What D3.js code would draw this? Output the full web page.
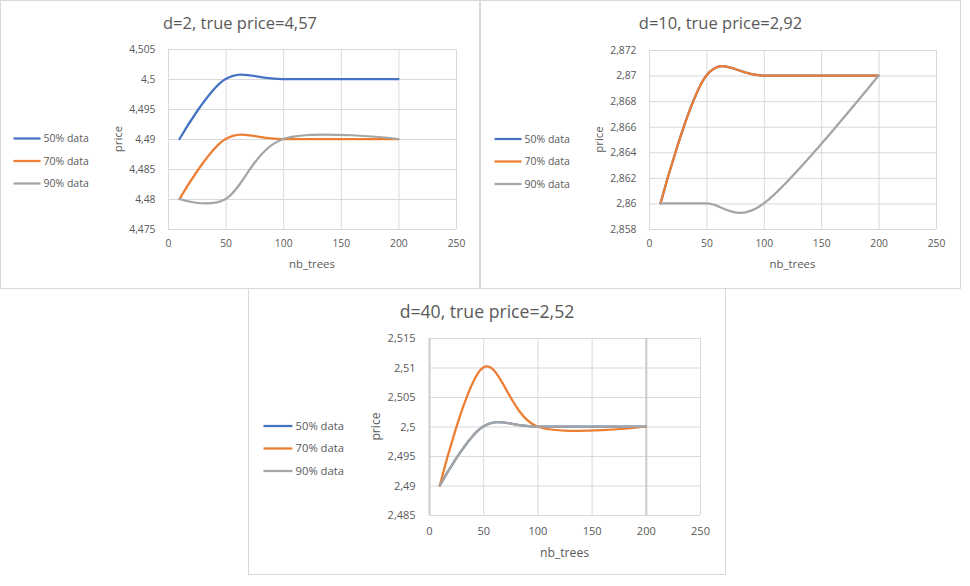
<!DOCTYPE html>
<html>
<head>
<meta charset="utf-8">
<script src="https://cdn.jsdelivr.net/npm/d3@7"></script>
<style>
  body { margin: 0; background: #fff; }
  text { font-family: 'Open Sans', sans-serif; fill: #595959; }
</style>
</head>
<body>
<svg id="chart" width="970" height="586"></svg>
<script>
/* ----------------------------- data ----------------------------- */
const nbTrees = [10, 50, 100, 200];
const seriesNames = ['50% data', '70% data', '90% data'];
const seriesColors = ['#4472c4', '#ed7d31', '#a5a5a5'];
const xTicks = [0, 50, 100, 150, 200, 250];

const chartTitles = ['d=2, true price=4,57', 'd=10, true price=2,92', 'd=40, true price=2,52'];

const d2Ticks = [4.475, 4.48, 4.485, 4.49, 4.495, 4.5, 4.505];
const d2Price50 = [4.49, 4.5, 4.5, 4.5];
const d2Price70 = [4.48, 4.49, 4.49, 4.49];
const d2Price90 = [4.48, 4.48, 4.49, 4.49];

const d10Ticks = [2.858, 2.86, 2.862, 2.864, 2.866, 2.868, 2.87, 2.872];
const d10Price50 = [2.86, 2.87, 2.87, 2.87];
const d10Price70 = [2.86, 2.87, 2.87, 2.87];
const d10Price90 = [2.86, 2.86, 2.86, 2.87];

const d40Ticks = [2.485, 2.49, 2.495, 2.5, 2.505, 2.51, 2.515];
const d40Price50 = [2.49, 2.5, 2.5, 2.5];
const d40Price70 = [2.49, 2.51, 2.5, 2.5];
const d40Price90 = [2.49, 2.5, 2.5, 2.5];

/* ---------------------------- layout ---------------------------- */
// box: [x0, y0, x1, y1], plot: [left, top, right, bottom], s: font scale
const layouts = [
  { box: [0.5, 0.5, 479.5, 288.5], plot: [168, 49, 456, 229], s: 1, legendX: 13, heavyX: [] },
  { box: [480.5, 0.5, 960.5, 288.5], plot: [649, 50, 936, 229], s: 1, legendX: 14, heavyX: [] },
  { box: [248.5, 288.5, 725.5, 574.5], plot: [429, 338, 700, 515], s: 1.07, legendX: 14, heavyX: [0, 200] },
];

const fmt = d3.formatLocale({ decimal: ',', thousands: ' ', grouping: [3], currency: ['', ''] }).format('.3~f');

const svg = d3.select('#chart');

const drawChart = (layout, title, yTicks, series) => {
  const [bx0, by0, bx1, by1] = layout.box;
  const [left, top, right, bottom] = layout.plot;
  const s = layout.s;
  const g = svg.append('g');

  g.append('rect')
    .attr('x', bx0).attr('y', by0)
    .attr('width', bx1 - bx0).attr('height', by1 - by0)
    .attr('fill', '#fff')
    .attr('stroke', '#d9d9d9');

  const x = d3.scaleLinear().domain([0, 250]).range([left, right]);
  const y = d3.scaleLinear().domain([yTicks[0], yTicks[yTicks.length - 1]]).range([bottom, top]);

  // grid + axes
  const yAxis = g.append('g')
    .attr('transform', `translate(${left},0)`)
    .call(d3.axisLeft(y).tickValues(yTicks).tickFormat(fmt)
      .tickSize(-(right - left)).tickPadding(12.5 * s));
  const xAxis = g.append('g')
    .attr('transform', `translate(0,${bottom})`)
    .call(d3.axisBottom(x).tickValues(xTicks).tickFormat(d3.format('d'))
      .tickSize(-(bottom - top)).tickPadding(11 * s));

  [yAxis, xAxis].forEach((a) => {
    a.select('.domain').remove();
    a.selectAll('line').attr('stroke', '#d9d9d9');
    a.selectAll('text')
      .style('font-size', `${10.3 * s}px`)
      .style('font-family', "'Open Sans', sans-serif")
      .attr('fill', '#595959');
  });
  xAxis.selectAll('.tick')
    .filter((d) => layout.heavyX.includes(d))
    .select('line')
    .attr('stroke', '#cbcbcb')
    .attr('stroke-width', 2);

  // titles
  g.append('text')
    .attr('x', (bx0 + bx1) / 2)
    .attr('y', by0 + 28 * s)
    .attr('text-anchor', 'middle')
    .style('font-size', `${16.5 * s}px`)
    .text(title);

  g.append('text')
    .attr('x', (left + right) / 2)
    .attr('y', bottom + 35 * s)
    .attr('text-anchor', 'middle')
    .attr('dy', '0.35em')
    .style('font-size', `${11.4 * s}px`)
    .text('nb_trees');

  g.append('text')
    .attr('transform', `translate(${left - 50 * s},${(top + bottom) / 2}) rotate(-90)`)
    .attr('text-anchor', 'middle')
    .attr('dy', '0.35em')
    .style('font-size', `${11.4 * s}px`)
    .text('price');

  // series
  const line = d3.line()
    .x((d, i) => x(nbTrees[i]))
    .y((d) => y(d))
    .curve(d3.curveCardinal.tension(0));

  series.forEach((values, i) => {
    g.append('path')
      .datum(values)
      .attr('fill', 'none')
      .attr('stroke', seriesColors[i])
      .attr('stroke-width', 2.25)
      .attr('stroke-linecap', 'round')
      .attr('d', line);
  });

  // legend
  const mid = (top + bottom) / 2 - 0.5;
  const legend = g.append('g')
    .selectAll('g')
    .data(seriesNames)
    .join('g')
    .attr('transform', (d, i) => `translate(${bx0 + layout.legendX * s},${mid + i * 22.5})`);
  legend.append('line')
    .attr('x1', 0).attr('x2', 27 * s)
    .attr('stroke', (d, i) => seriesColors[i])
    .attr('stroke-width', 2.25);
  legend.append('text')
    .attr('x', 30 * s)
    .attr('dy', '0.35em')
    .style('font-size', `${10.5 * s}px`)
    .text((d) => d);
};

drawChart(layouts[0], chartTitles[0], d2Ticks, [d2Price50, d2Price70, d2Price90]);
drawChart(layouts[1], chartTitles[1], d10Ticks, [d10Price50, d10Price70, d10Price90]);
drawChart(layouts[2], chartTitles[2], d40Ticks, [d40Price50, d40Price70, d40Price90]);
</script>
</body>
</html>
